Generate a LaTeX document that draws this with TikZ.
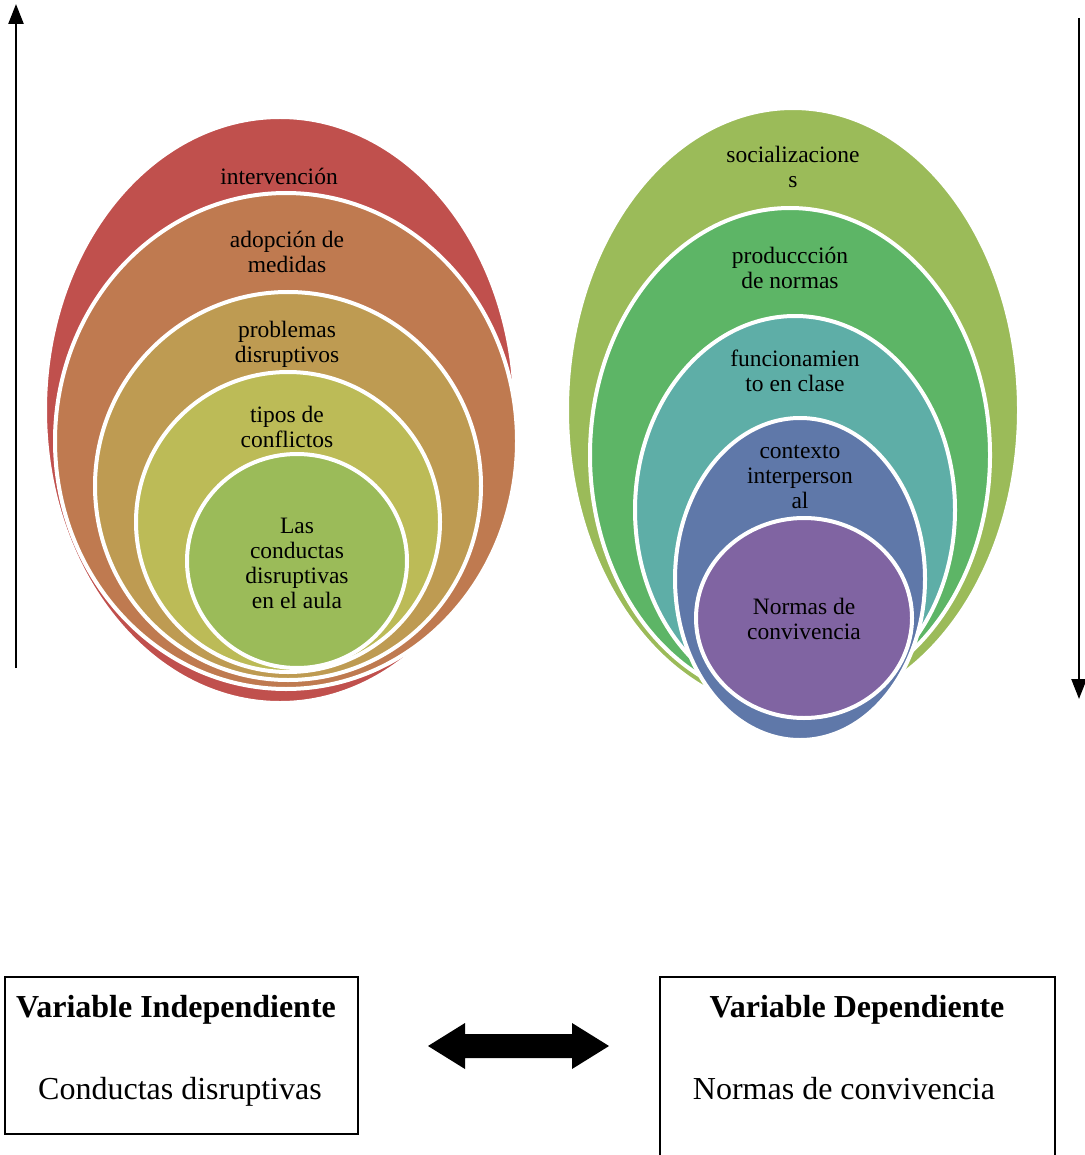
\documentclass[tikz,border=0pt]{standalone}
\usepackage{fontspec}
\setmainfont{Liberation Serif}
\usetikzlibrary{shapes.geometric,arrows.meta}
\definecolor{cRed}{HTML}{C0504D}
\definecolor{cOrange}{HTML}{BF7A50}
\definecolor{cTan}{HTML}{BE9B52}
\definecolor{cYel}{HTML}{BCBB57}
\definecolor{cGreen}{HTML}{9BBB59}
\definecolor{cOlive}{HTML}{9BBB59}
\definecolor{cMid}{HTML}{5DB566}
\definecolor{cTeal}{HTML}{5EAEA7}
\definecolor{cBlue}{HTML}{5F78A9}
\definecolor{cPurple}{HTML}{8064A2}
\begin{document}
\begin{tikzpicture}[x=1pt,y=-1pt,
  ring/.style={ellipse, draw=white, line width=4pt, inner sep=0pt},
  lab/.style={align=center, font=\fontsize{23.5}{25}\selectfont, text=black, inner sep=0pt},
  big/.style={font=\fontsize{32}{36}\selectfont, inner sep=0pt, anchor=base},
  bigb/.style={font=\fontsize{32}{36}\selectfont\bfseries, inner sep=0pt, anchor=base},
  vbox/.style={draw=black, line width=1.3pt},
  vline/.style={line width=2.4pt, -{Triangle[width=15pt,length=20pt]}}]
\useasboundingbox (0,0) rectangle (1084,1155);
% left group
\node[ring, fill=cRed,    minimum width=470, minimum height=586] (l1) at (280,410) {};
\node[ring, fill=cOrange, minimum width=462, minimum height=496] (l2) at (286,441) {};
\node[ring, fill=cTan,    minimum width=386, minimum height=388] (l3) at (288,486) {};
\node[ring, fill=cYel,    minimum width=304, minimum height=300] (l4) at (288,522) {};
\node[ring, fill=cGreen,  minimum width=220, minimum height=214] (l5) at (297,561) {};
\node[lab] (t1) at (279,176) {intervención};
\node[lab] (t2) at (287,252) {adopción de\\medidas};
\node[lab] (t3) at (287,344) {problemas\\disruptivos};
\node[lab] (t4) at (287,427) {tipos de\\conflictos};
\node[lab] (t5) at (297,563) {Las\\conductas\\disruptivas\\en el aula};
% right group
\node[ring, fill=cOlive,  minimum width=452, minimum height=604] (r1) at (793,410) {};
\node[ring, fill=cMid,    minimum width=400, minimum height=494] (r2) at (790,455) {};
\node[ring, fill=cTeal,   minimum width=320, minimum height=388] (r3) at (795,510) {};
\node[ring, fill=cBlue,   minimum width=250, minimum height=322] (r4) at (800,579) {};
\node[ring, fill=cPurple, minimum width=216, minimum height=200] (r5) at (804,618) {};
\node[lab] (s1) at (793,167) {socializacione\\s};
\node[lab] (s2) at (790,268) {produccción\\de normas};
\node[lab] (s3) at (795,371) {funcionamien\\to en clase};
\node[lab] (s4) at (800,477) {contexto\\interperson\\al};
\node[lab] (s5) at (804,619) {Normas de\\convivencia};
% vertical arrows
\coordinate (a1) at (16,668);
\coordinate (a2) at (16,4);
\coordinate (b1) at (1079,18);
\coordinate (b2) at (1079,699);
\draw[vline] (a1) -- (a2);
\draw[vline] (b1) -- (b2);
% bottom boxes
\draw[vbox] (5,977) rectangle (358,1134);
\draw[vbox] (660,1156) -- (660,977) -- (1055,977) -- (1055,1156);
\node[bigb] (v1) at (176,1017) {Variable Independiente};
\node[big] (v2) at (180,1099) {Conductas disruptivas};
\node[bigb] (w1) at (857,1017) {Variable Dependiente};
\node[big] (w2) at (844,1099) {Normas de convivencia};
% double block arrow
\fill[black] (428,1046) -- (465,1023) -- (465,1034) -- (572,1034) -- (572,1023)
  -- (609,1046) -- (572,1069) -- (572,1058) -- (465,1058) -- (465,1069) -- cycle;
\end{tikzpicture}
\end{document}
